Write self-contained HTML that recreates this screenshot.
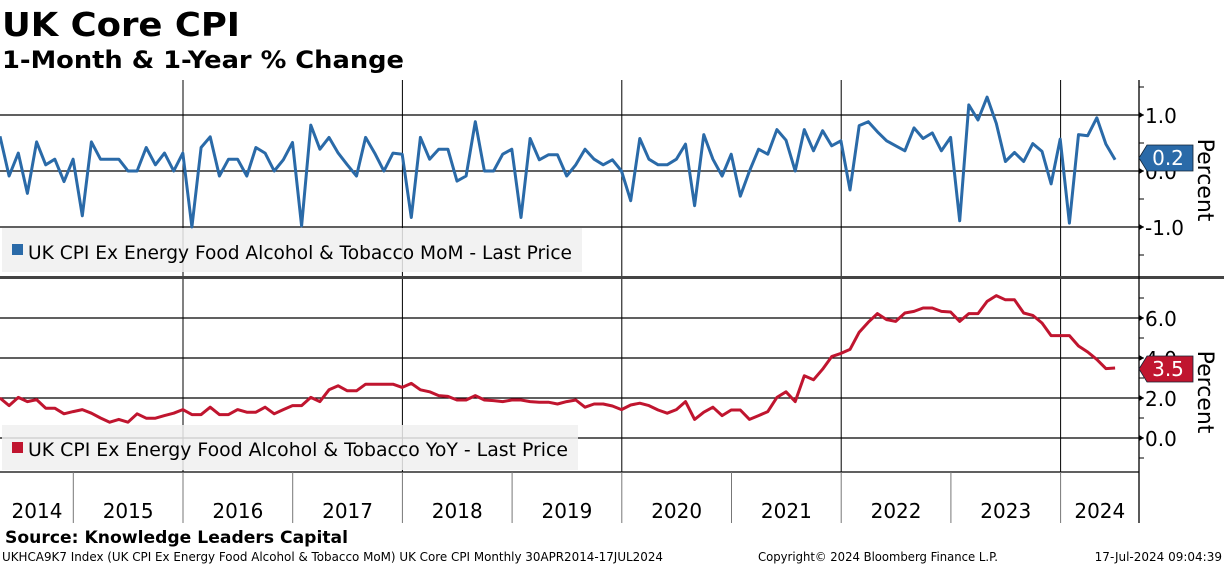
<!DOCTYPE html>
<html><head><meta charset="utf-8"><style>
html,body{margin:0;padding:0;background:#fff;}
svg{display:block;font-family:"DejaVu Sans","Liberation Sans",sans-serif;}
</style></head><body>
<svg id="c" width="1224" height="566" viewBox="0 0 1224 566">
<text x="2" y="36" font-size="33" font-weight="bold" textLength="238" lengthAdjust="spacingAndGlyphs">UK Core CPI</text>
<text x="2" y="68" font-size="24" font-weight="bold" textLength="402" lengthAdjust="spacingAndGlyphs">1-Month &amp; 1-Year % Change</text>
<g id="grid"></g>
<rect x="2" y="228" width="580" height="44" fill="#f0f0f0" fill-opacity="0.85"/>
<rect x="12" y="244" width="11" height="11" fill="#2a6aa8"/>
<text x="28" y="259" font-size="19" textLength="544" lengthAdjust="spacingAndGlyphs">UK CPI Ex Energy Food Alcohol &amp; Tobacco MoM - Last Price</text>
<rect x="2" y="425" width="576" height="45" fill="#f0f0f0" fill-opacity="0.85"/>
<rect x="12" y="442" width="11" height="11" fill="#c0152f"/>
<text x="28" y="456" font-size="19" textLength="540" lengthAdjust="spacingAndGlyphs">UK CPI Ex Energy Food Alcohol &amp; Tobacco YoY - Last Price</text>
<g id="series"></g>
<rect x="0" y="276" width="1224" height="3" fill="#444"/>
<text transform="translate(1198,180) rotate(90)" font-size="22" text-anchor="middle">Percent</text>
<text transform="translate(1198,392) rotate(90)" font-size="22" text-anchor="middle">Percent</text>
<text x="5" y="543" font-size="17" font-weight="bold" textLength="343" lengthAdjust="spacingAndGlyphs">Source: Knowledge Leaders Capital</text>
<text x="2" y="561" font-size="12" textLength="661" lengthAdjust="spacingAndGlyphs">UKHCA9K7 Index (UK CPI Ex Energy Food Alcohol &amp; Tobacco MoM) UK Core CPI  Monthly 30APR2014-17JUL2024</text>
<text x="758" y="561" font-size="12" textLength="240" lengthAdjust="spacingAndGlyphs">Copyright© 2024 Bloomberg Finance L.P.</text>
<text x="1222" y="561" font-size="12" text-anchor="end">17-Jul-2024 09:04:39</text>
</svg>
<script>
const years = ["2014","2015","2016","2017","2018","2019","2020","2021","2022","2023","2024"];
const momTicks = [-1.0, 0.0, 1.0];
const yoyTicks = [0.0, 2.0, 4.0, 6.0];
const momValues = [0.62,-0.09,0.32,-0.40,0.52,0.11,0.21,-0.19,0.21,-0.80,
0.52,0.21,0.21,0.21,0.0,0.0,0.42,0.11,0.32,0.0,
0.32,-1.0,0.42,0.61,-0.09,0.21,0.21,-0.09,0.42,0.32,
0.0,0.2,0.51,-0.98,0.82,0.39,0.60,0.32,0.11,-0.09,
0.60,0.32,0.0,0.32,0.30,-0.83,0.60,0.21,0.39,0.39,
-0.18,-0.09,0.88,0.0,0.0,0.3,0.39,-0.83,0.58,0.2,
0.29,0.29,-0.09,0.11,0.39,0.21,0.11,0.2,0.0,-0.53,
0.58,0.21,0.11,0.11,0.21,0.48,-0.62,0.65,0.21,-0.09,
0.3,-0.45,0.0,0.39,0.3,0.74,0.55,0.0,0.74,0.36,
0.72,0.45,0.54,-0.34,0.81,0.88,0.70,0.54,0.45,0.36,
0.77,0.58,0.68,0.36,0.6,-0.89,1.18,0.91,1.32,0.85,
0.17,0.33,0.17,0.49,0.35,-0.23,0.57,-0.93,0.65,0.63,
0.95,0.48,0.2];
const yoyValues = [2.0,1.62,2.03,1.82,1.92,1.49,1.49,1.21,1.32,1.42,
1.24,1.0,0.79,0.93,0.79,1.21,0.99,0.99,1.12,1.24,
1.42,1.17,1.17,1.54,1.17,1.17,1.42,1.29,1.29,1.54,
1.21,1.42,1.62,1.62,2.03,1.82,2.41,2.61,2.36,2.36,
2.69,2.69,2.69,2.69,2.53,2.73,2.41,2.31,2.12,2.08,
1.90,1.90,2.12,1.90,1.87,1.82,1.90,1.90,1.82,1.79,
1.79,1.70,1.82,1.90,1.54,1.70,1.70,1.6,1.42,1.65,
1.74,1.62,1.40,1.24,1.42,1.82,0.93,1.29,1.54,1.12,
1.40,1.40,0.93,1.12,1.32,2.03,2.31,1.82,3.11,2.91,
3.44,4.07,4.23,4.43,5.29,5.79,6.22,5.92,5.83,6.25,
6.33,6.50,6.50,6.33,6.30,5.83,6.22,6.22,6.83,7.12,
6.91,6.91,6.25,6.13,5.75,5.12,5.12,5.12,4.60,4.30,
3.93,3.47,3.5];
const NS='http://www.w3.org/2000/svg';
const svg=document.getElementById('c');
const gGrid=document.getElementById('grid');
const gSer=document.getElementById('series');
const AXR=1139;
function xIdx(i){return i*9.14;}
function xYear(k){return -36.4+k*109.7;}
function yMom(v){return 171-56*v;}
function yYoy(v){return 438-20*v;}
function mk(tag,attrs,parent){const e=document.createElementNS(NS,tag);for(const k in attrs)e.setAttribute(k,attrs[k]);(parent||svg).appendChild(e);return e;}
for(let k=2;k<years.length;k+=2){
  const l=mk('line',{x1:xYear(k),x2:xYear(k),y1:80,y2:472,stroke:'#000','stroke-width':1},gGrid);
  
  
}
momTicks.forEach(v=>{
  const l=mk('line',{x1:0,x2:AXR,y1:yMom(v),y2:yMom(v),stroke:'#000','stroke-width':1.3},gGrid);
  
  
  const t=mk('text',{x:1145,y:yMom(v)+8,'font-size':20});
  t.textContent=v.toFixed(1);
  
  
  mk('path',{d:`M${AXR} ${yMom(v)-3}L${AXR+5} ${yMom(v)}L${AXR} ${yMom(v)+3}Z`,fill:'#000'});
});
for(let v=-1.5;v<=1.6;v+=0.5){mk('line',{x1:AXR,x2:AXR+5,y1:yMom(v),y2:yMom(v),stroke:'#000'});}
yoyTicks.forEach(v=>{
  const l=mk('line',{x1:0,x2:AXR,y1:yYoy(v),y2:yYoy(v),stroke:'#000','stroke-width':1.3},gGrid);
  
  
  const t=mk('text',{x:1145,y:yYoy(v)+8,'font-size':20});
  t.textContent=v.toFixed(1);
  
  
  mk('path',{d:`M${AXR} ${yYoy(v)-3}L${AXR+5} ${yYoy(v)}L${AXR} ${yYoy(v)+3}Z`,fill:'#000'});
});
for(let v=-1;v<=7;v+=1){mk('line',{x1:AXR,x2:AXR+5,y1:yYoy(v),y2:yYoy(v),stroke:'#000'});}
mk('line',{x1:AXR,x2:AXR,y1:80,y2:523,stroke:'#000','stroke-width':1.3});
mk('line',{x1:0,x2:AXR,y1:472,y2:472,stroke:'#000','stroke-width':1.3});
years.forEach((y,k)=>{
  if(k>0){mk('line',{x1:xYear(k),x2:xYear(k),y1:472,y2:523,stroke:'#777','stroke-width':1});}
  const cx=Math.max(xYear(k),0), nx=Math.min(xYear(k+1),AXR);
  const t=mk('text',{x:k===0?37:(cx+nx)/2,y:518,'font-size':20,'text-anchor':'middle'});
  t.textContent=y;
  
  
});
function line(vals,yf,col,name){
  const d=vals.map((v,i)=>(i?'L':'M')+xIdx(i).toFixed(1)+' '+yf(v).toFixed(1)).join('');
  const p=mk('path',{d:d,fill:'none',stroke:col,'stroke-width':3,'stroke-linejoin':'round'},gSer);
  
  
}
line(momValues,yMom,'#2a6aa8','mom-line');
line(yoyValues,yYoy,'#c0152f','yoy-line');
function badge(val,yc,col,name){
  const g=mk('g',{});
  
  
  mk('path',{d:`M${AXR} ${yc}L${AXR+8} ${yc-13}L1193 ${yc-13}L1193 ${yc+13}L${AXR+8} ${yc+13}Z`,fill:col,stroke:'#123','stroke-width':0.8},g);
  const t=mk('text',{x:1168,y:yc+7,'font-size':20,fill:'#fff','text-anchor':'middle'},g);
  t.textContent=val.toFixed(1);
}
badge(momValues[momValues.length-1],158,'#2a6aa8','mom-last-value');
badge(yoyValues[yoyValues.length-1],369,'#c0152f','yoy-last-value');
</script>
</body></html>
